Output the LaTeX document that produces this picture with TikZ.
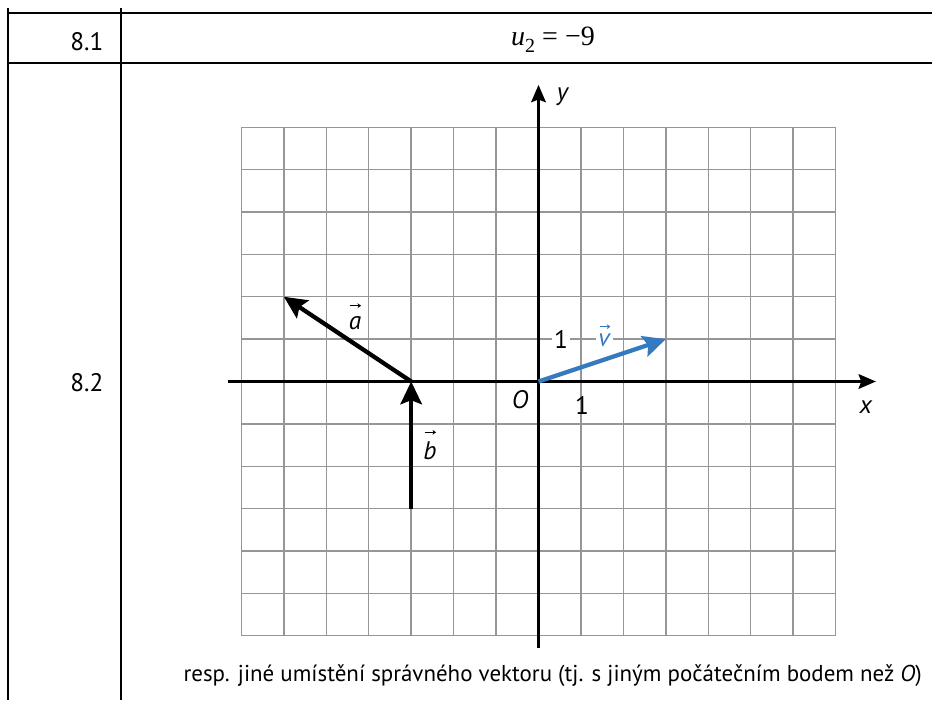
\documentclass[tikz,border=0pt]{standalone}
\usepackage{fontspec}
\setmainfont{PT Sans}
\newfontfamily\serifmath{Liberation Serif}
\usetikzlibrary{arrows.meta}
\definecolor{vblue}{RGB}{52,122,193}
\definecolor{gridgray}{RGB}{150,150,150}
\tikzset{
  tableline/.style={line width=1.3pt, black},
  gridline/.style={line width=1.1pt, gridgray},
  axisline/.style={line width=1.9pt, -{Stealth[length=13pt,width=11pt,inset=2pt]}},
  vecline/.style={line width=3.2pt, -{Stealth[length=17pt,width=16pt,inset=3pt]}},
  lbl/.style={font=\fontsize{19}{22}\selectfont, inner sep=1pt},
  wlbl/.style={lbl, fill=white, inner sep=1.5pt},
  accarrow/.style={line width=0.7pt, -{Stealth[length=2.6pt,width=3.6pt]}}
}
\begin{document}
\begin{tikzpicture}[x=0.75pt,y=-0.75pt]
\useasboundingbox (0,0) rectangle (932,700);
% table
\draw[tableline] (8,8) -- (8,700);
\draw[tableline] (121,8) -- (121,700);
\draw[tableline] (8,13) -- (932,13);
\draw[tableline] (8,63) -- (932,63);
\node[lbl, anchor=east] (r1) at (105,42) {8.1};
\node[lbl, anchor=east] (r2) at (105,383) {8.2};
\node[inner sep=1pt, font=\fontsize{21}{24}\selectfont\serifmath] (ans) at (553,40) {\textit{u}\raisebox{-0.25em}{\fontsize{15}{16}\selectfont 2} = −9};
% graph
\begin{scope}[shift={(538.5,381.5)}, x=31.83pt, y=31.78pt]
  \foreach \i in {-7,...,7} \draw[gridline] (\i,-6) -- (\i,6);
  \foreach \j in {-6,...,6} \draw[gridline] (-7,\j) -- (7,\j);
  \coordinate (xs) at (-7.32,0);
  \coordinate (xe) at (7.95,0);
  \coordinate (ys) at (0,-6.29);
  \coordinate (ye) at (0,7.0);
  \draw[axisline] (xs) -- (xe);
  \draw[axisline] (ys) -- (ye);
  \coordinate (o) at (0,0);
  \coordinate (a0) at (-3,0);
  \coordinate (a1) at (-6,2);
  \coordinate (b0) at (-3,-3);
  \coordinate (v1) at (3,1);
  \draw[vecline] (a0) -- (a1);
  \draw[vecline] (b0) -- (a0);
  \draw[vecline, vblue] (o) -- (v1);
  \node[wlbl] (one) at (0.53,0.98) {1};
  \node[wlbl, text=vblue, inner ysep=3pt] (vl) at (1.56,0.98) {\textit{v}};
\end{scope}
\draw[accarrow, vblue] ([xshift=-3.8pt,yshift=10pt]vl.center) -- ++(8pt,0);
\node[lbl] (yl) at (563,97) {\textit{y}};
\node[lbl] (xl) at (866,407) {\textit{x}};
\node[lbl] (ol) at (520,400) {\textit{O}};
\node[lbl] (onex) at (582,405) {1};
\node[lbl] (al) at (355,323) {\textit{a}};
\draw[accarrow] ([xshift=-4pt,yshift=13pt]al.center) -- ++(8.5pt,0);
\node[lbl] (bl) at (430,451) {\textit{b}};
\draw[accarrow] ([xshift=-4pt,yshift=14pt]bl.center) -- ++(8.5pt,0);
\node[lbl, font=\fontsize{17.2}{20}\selectfont, anchor=west] (note) at (182,676) {resp. jiné umístění správného vektoru (tj. s~jiným počátečním bodem než \textit{O})};
\end{tikzpicture}
\end{document}
